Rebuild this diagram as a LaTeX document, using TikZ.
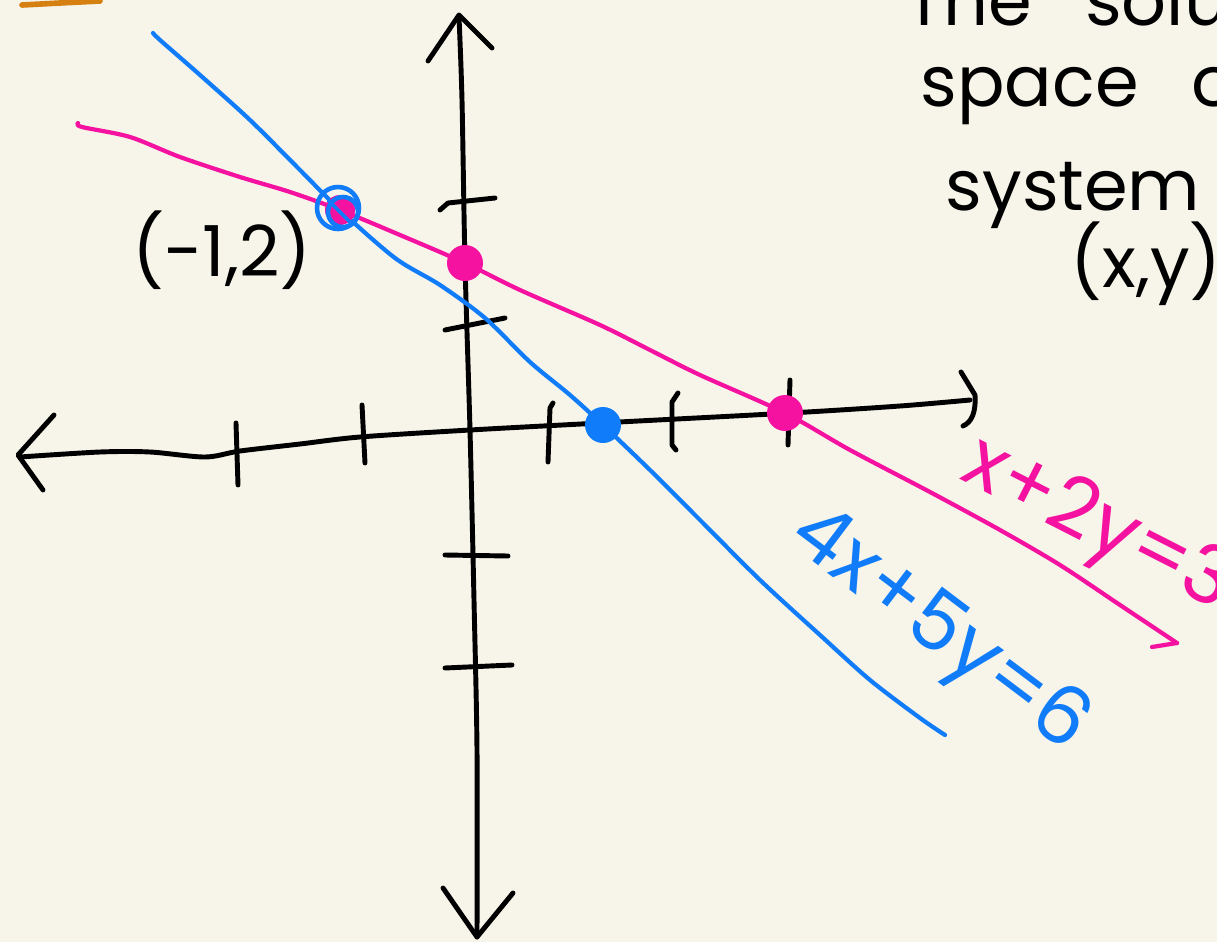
\documentclass[tikz,border=0pt]{standalone}
\usepackage{fontspec}
\setmainfont{Poppins}
\usetikzlibrary{calc}
\definecolor{fond}{RGB}{247,245,233}
\definecolor{bleu}{RGB}{16,124,250}
\definecolor{rose}{RGB}{245,18,160}
\definecolor{orange}{RGB}{214,128,18}
\begin{document}
\begin{tikzpicture}[x=0.01cm,y=-0.01cm]
				% Styles (MODIFIABLES)
				\tikzstyle{trait}=[line width=1.4pt,line cap=round,line join=round]
				\tikzstyle{axe}=[trait,black]
				\tikzstyle{graduation}=[trait,black]
				\tikzstyle{droiteA}=[trait,rose,line width=1.2pt]
				\tikzstyle{droiteB}=[trait,bleu,line width=1.2pt]
				\tikzstyle{commentaire}=[black,font=\fontsize{20}{24}\selectfont,inner sep=0pt]
				\tikzstyle{equation}=[font=\fontsize{23}{26}\selectfont,inner sep=0pt]
				% Dimensions (MODIFIABLES)
				\def\RayonPoint{18}
				\def\Blanc{\hspace{0.75em}}
				% Fond et cadre
				\fill[fond] (0,0) rectangle (1217,942);
				\clip (0,0) rectangle (1217,942);
				\draw[trait,orange,line width=1.6pt] (22,5) -- (60,3) -- (100,1);
				% Points remarquables
				\coordinate (I) at (340,210);
				\coordinate (A) at (465,263);
				\coordinate (B) at (603,425);
				\coordinate (C) at (785,413);
				% Axes
				\draw[axe] plot[smooth] coordinates {(20,457) (100,452) (150,452) (205,457) (240,451) (300,444) (360,437) (470,430) (600,423) (790,413) (900,406) (970,400)};
				\draw[axe] (54,415) -- (18,455) -- (43,490);
				\draw[axe] (961,372) -- (975,395) .. controls (976,412) and (972,422) .. (963,426);
				\draw[axe] plot[smooth] coordinates {(459,17) (462,100) (465,263) (470,430) (474,600) (477,750) (477,937)};
				\draw[axe] (428,61) -- (459,15) -- (492,48);
				\draw[axe] (443,888) -- (477,937) -- (513,893);
				% Graduations
				\draw[graduation] (236,423) -- (238,485);
				\draw[graduation] (362,405) -- (365,463);
				\draw[graduation] (553,403) -- (550,408) -- (548,462);
				\draw[graduation] (678,393) -- (672,402) -- (672,445) -- (676,450);
				\draw[graduation] (790,380) -- (788,445);
				\draw[graduation] (440,210) -- (448,203) -- (495,198);
				\draw[graduation] (445,330) -- (505,318);
				\draw[graduation] (445,555) -- (508,556);
				\draw[graduation] (445,668) -- (512,665);
				% Droites
				\draw[droiteB] plot[smooth] coordinates {(153,33) (160,40) (200,75) (250,120) (300,170) (I) (395,258) (440,285) (485,318) (530,362) (570,395) (B) (650,470) (700,520) (760,580) (820,635) (870,680) (920,718) (945,735)};
				\draw[droiteA] plot[smooth] coordinates {(78,123) (82,127) (130,137) (180,157) (240,177) (290,192) (I) (400,235) (A) (520,290) (600,325) (650,350) (700,375) (C) (850,450) (930,492) (1000,530) (1060,565) (1120,605) (1177,643)};
				\draw[droiteA] (1177,643) -- (1152,647);
				% Points
				\fill[rose] (I) circle (15);
				\draw[bleu,line width=1.3pt] ($(I)+(-2,-2)$) circle (21);
				\draw[bleu,line width=1.3pt] ($(I)+(3,2)$) circle (15);
				\draw[bleu,line width=1.1pt] ($(I)+(-12,-10)$) -- ($(I)+(10,12)$);
				\fill[rose] (A) circle (\RayonPoint);
				\fill[bleu] (B) circle (\RayonPoint);
				\fill[rose] (C) circle (\RayonPoint);
				% Textes
				\node[commentaire] (coord) at (222,250) {(-1,2)};
				\node[equation,rose,rotate=-27] (eqA) at (1097,528) {x+2y=3};
				\node[equation,bleu,rotate=-37] (eqB) at (938,632) {4x+5y=6};
				\node[commentaire,anchor=base west] (l1) at (905,25) {The\Blanc solution};
				\node[commentaire,anchor=base west] (l2) at (920,106) {space\Blanc of};
				\node[commentaire,anchor=base west] (l3) at (945,210) {system};
				\node[commentaire,anchor=base west] (l4) at (1070,287) {(x,y)};
\end{tikzpicture}
\end{document}
